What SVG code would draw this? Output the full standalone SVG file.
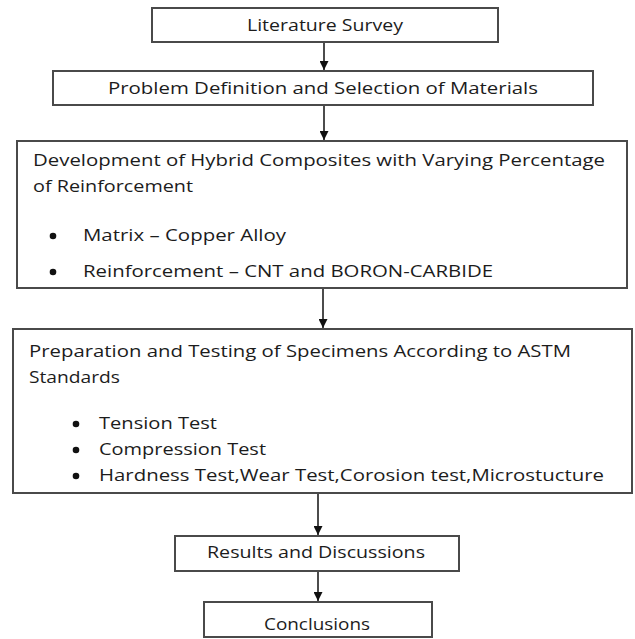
<svg xmlns="http://www.w3.org/2000/svg" width="635" height="639" viewBox="0 0 635 639">
<defs>
<marker id="ah" viewBox="0 0 10 10" refX="10" refY="5" markerWidth="9" markerHeight="9" markerUnits="userSpaceOnUse" orient="auto">
<path d="M0,0 L10,5 L0,10 Z" fill="#111"/>
</marker>
</defs>
<style>
.box{fill:#fff;stroke:#4a4a4a;stroke-width:2}
.t{font-family:"Open Sans","Liberation Sans",sans-serif;font-size:15.5px;fill:#1c1c1c}
.bul{fill:#111}
.con{stroke:#111;stroke-width:1.5;fill:none;marker-end:url(#ah)}
</style>
<rect width="635" height="639" fill="#fff"/>
<g id="connectors">
<line class="con" x1="324" y1="42" x2="324" y2="70"/>
<line class="con" x1="324" y1="105" x2="324" y2="140"/>
<line class="con" x1="323" y1="288" x2="323" y2="328"/>
<line class="con" x1="318" y1="493" x2="318" y2="535"/>
<line class="con" x1="318" y1="571" x2="318" y2="601"/>
</g>
<g id="literature">
<rect class="box" x="152" y="8" width="346" height="34"/>
<text class="t" x="247" y="31" textLength="156" lengthAdjust="spacingAndGlyphs">Literature Survey</text>
</g>
<g id="problem">
<rect class="box" x="53" y="71" width="540" height="34"/>
<text class="t" x="108" y="94" textLength="430" lengthAdjust="spacingAndGlyphs">Problem  Definition  and Selection  of  Materials</text>
</g>
<g id="development">
<rect class="box" x="17" y="141" width="610" height="147"/>
<text class="t" x="33" y="166" textLength="572" lengthAdjust="spacingAndGlyphs">Development  of  Hybrid  Composites  with  Varying  Percentage</text>
<text class="t" x="33" y="192" textLength="160" lengthAdjust="spacingAndGlyphs">of Reinforcement</text>
<circle class="bul" cx="53" cy="236" r="3.3"/>
<text class="t" x="83" y="241" textLength="203" lengthAdjust="spacingAndGlyphs">Matrix – Copper  Alloy</text>
<circle class="bul" cx="53" cy="272" r="3.3"/>
<text class="t" x="83" y="277" textLength="410" lengthAdjust="spacingAndGlyphs">Reinforcement  – CNT and BORON-CARBIDE</text>
</g>
<g id="preparation">
<rect class="box" x="13" y="329" width="619" height="164"/>
<text class="t" x="29" y="357" textLength="542" lengthAdjust="spacingAndGlyphs">Preparation and Testing of Specimens  According to ASTM</text>
<text class="t" x="29" y="383" textLength="91" lengthAdjust="spacingAndGlyphs">Standards</text>
<circle class="bul" cx="76" cy="424" r="3.3"/>
<text class="t" x="99" y="429" textLength="118" lengthAdjust="spacingAndGlyphs">Tension Test</text>
<circle class="bul" cx="76" cy="450" r="3.3"/>
<text class="t" x="99" y="455" textLength="167" lengthAdjust="spacingAndGlyphs">Compression Test</text>
<circle class="bul" cx="76" cy="476" r="3.3"/>
<text class="t" x="99" y="481" textLength="505" lengthAdjust="spacingAndGlyphs">Hardness Test,Wear Test,Corosion test,Microstucture</text>
</g>
<g id="results">
<rect class="box" x="175" y="536" width="284" height="35"/>
<text class="t" x="207" y="558" textLength="218" lengthAdjust="spacingAndGlyphs">Results and Discussions</text>
</g>
<g id="conclusions">
<rect class="box" x="204" y="602" width="228" height="35"/>
<text class="t" x="264" y="630" textLength="106" lengthAdjust="spacingAndGlyphs">Conclusions</text>
</g>
</svg>
